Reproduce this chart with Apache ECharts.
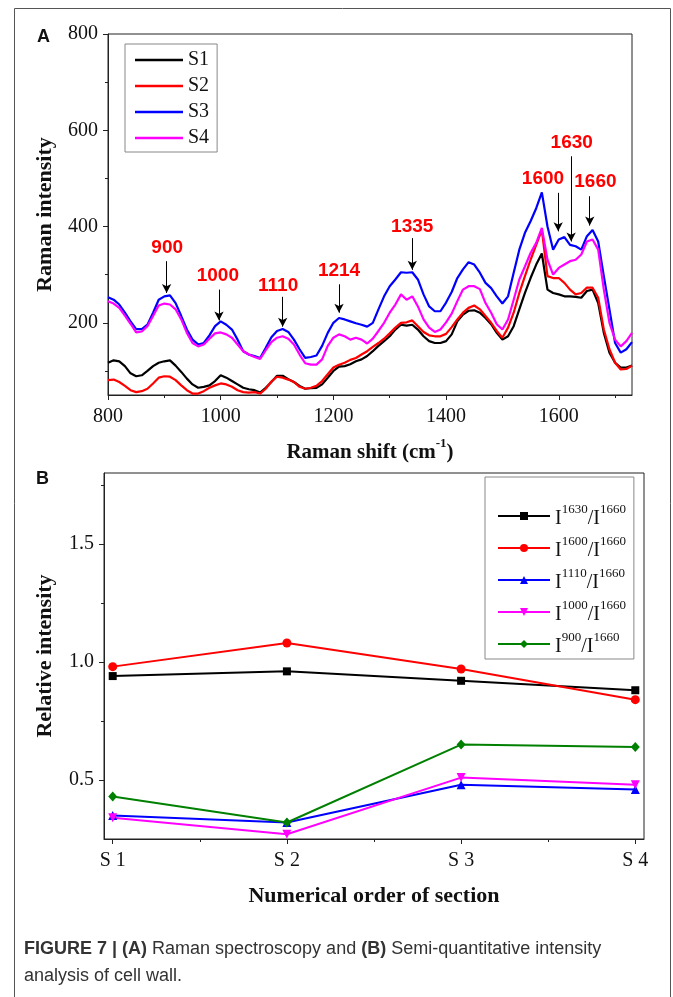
<!DOCTYPE html>
<html>
<head>
<meta charset="utf-8">
<script src="https://cdn.jsdelivr.net/npm/echarts@6/dist/echarts.min.js"></script>
<style>
  html, body { margin: 0; padding: 0; background: #fff; }
  #main { position: absolute; left: 0; top: 0; width: 673px; height: 997px; }
</style>
</head>
<body>
<div id="main"></div>
<script>
  // ---- panel A : Raman spectra ----
  var shift = [
    800, 810, 820, 830, 840, 850, 860, 870, 880, 890,
    900, 910, 920, 930, 940, 950, 960, 970, 980, 990,
    1000, 1010, 1020, 1030, 1040, 1050, 1060, 1070, 1080, 1090,
    1100, 1110, 1120, 1130, 1140, 1150, 1160, 1170, 1180, 1190,
    1200, 1210, 1220, 1230, 1240, 1250, 1260, 1270, 1280, 1290,
    1300, 1310, 1320, 1330, 1340, 1350, 1360, 1370, 1380, 1390,
    1400, 1410, 1420, 1430, 1440, 1450, 1460, 1470, 1480, 1490,
    1500, 1510, 1520, 1530, 1540, 1550, 1560, 1570, 1580, 1590,
    1600, 1610, 1620, 1630, 1640, 1650, 1660, 1670, 1680, 1690,
    1700, 1710, 1720, 1730
  ];
  var s1 = [
    117, 122, 120, 110, 95, 89, 91, 100, 110, 117,
    120, 122, 111, 98, 84, 72, 65, 67, 70, 79,
    91, 86, 79, 72, 65, 62, 60, 55, 65, 77,
    90, 90, 83, 77, 69, 63, 64, 65, 72, 86,
    100, 109, 110, 114, 120, 124, 131, 141, 152, 162,
    172, 186, 196, 194, 196, 186, 172, 162, 158, 158,
    162, 176, 203, 217, 225, 226, 221, 210, 197, 179,
    165, 172, 193, 228, 262, 293, 321, 344, 269, 262,
    259, 255, 255, 254, 252, 266, 269, 241, 179, 138,
    117, 107, 107, 111
  ];
  var s2 = [
    81, 82, 77, 69, 60, 56, 58, 63, 74, 86,
    89, 88, 81, 70, 60, 53, 53, 58, 65, 70,
    74, 72, 67, 60, 56, 55, 56, 53, 63, 78,
    88, 86, 82, 77, 67, 63, 65, 69, 79, 93,
    107, 113, 117, 123, 127, 134, 141, 150, 158, 167,
    178, 190, 200, 201, 205, 193, 181, 174, 172, 172,
    177, 191, 207, 221, 231, 236, 228, 214, 200, 183,
    169, 190, 221, 262, 297, 331, 362, 393, 297, 293,
    293, 283, 269, 259, 262, 273, 273, 252, 186, 145,
    117, 103, 104, 111
  ];
  var s3 = [
    253, 248, 238, 221, 203, 187, 187, 196, 221, 248,
    255, 257, 241, 214, 186, 165, 155, 158, 174, 193,
    203, 196, 186, 165, 141, 134, 131, 127, 148, 170,
    183, 187, 181, 165, 145, 127, 129, 132, 152, 179,
    200, 210, 207, 203, 199, 196, 192, 200, 228, 255,
    276, 290, 305, 304, 305, 290, 259, 234, 224, 224,
    242, 264, 293, 311, 326, 321, 304, 283, 272, 255,
    240, 255, 304, 352, 387, 411, 438, 471, 400, 352,
    373, 378, 362, 359, 352, 380, 393, 369, 297, 228,
    158, 138, 145, 160
  ];
  var s4 = [
    245, 240, 231, 215, 198, 180, 182, 193, 214, 236,
    240, 238, 228, 207, 179, 158, 151, 155, 167, 178,
    180, 176, 169, 155, 141, 134, 129, 125, 143, 160,
    169, 172, 167, 155, 134, 116, 113, 113, 124, 152,
    169, 176, 172, 165, 169, 165, 157, 167, 183, 200,
    221, 238, 259, 248, 255, 234, 207, 190, 181, 186,
    201, 219, 245, 269, 276, 276, 270, 241, 221, 197,
    186, 207, 248, 290, 317, 345, 366, 397, 331, 300,
    314, 321, 328, 331, 342, 369, 373, 352, 269, 200,
    165, 151, 162, 179
  ];
  var spectraNames = ['S1', 'S2', 'S3', 'S4'];

  // peak annotations (data units)
  var peakLabels = ['900', '1000', '1110', '1214', '1335', '1600', '1630', '1660'];
  var labelX = [905, 995, 1102, 1210, 1340, 1572, 1623, 1665];
  var labelY = [356, 297, 276, 309, 400, 500, 575, 494];
  var arrowX = [904, 997, 1110, 1210, 1340, 1599, 1622, 1655];
  var arrowTop = [328, 269, 254, 280, 376, 470, 546, 463];
  var arrowTip = [262, 205, 192, 221, 310, 390, 369, 402];

  var shiftTicks = [800, 1000, 1200, 1400, 1600];
  var shiftMinor = [900, 1100, 1300, 1500, 1700];
  var intensityTicks = [200, 400, 600, 800];
  var intensityMinor = [100, 300, 500, 700];

  // ---- panel B : relative intensity ----
  var sections = ['S1', 'S2', 'S3', 'S4'];
  var r1630 = [0.94, 0.96, 0.92, 0.88];
  var r1600 = [0.98, 1.08, 0.97, 0.84];
  var r1110 = [0.35, 0.32, 0.48, 0.46];
  var r1000 = [0.34, 0.27, 0.51, 0.48];
  var r900 = [0.43, 0.32, 0.65, 0.64];
  var ratioTicks = [0.5, 1.0, 1.5];
  var ratioMinor = [0.75, 1.25, 1.75];
  var sectionTicks = [1, 2, 3, 4];
  var sectionMinor = [1.5, 2.5, 3.5];

  var serif = 'Liberation Serif, Times New Roman, serif';
  var sans = 'Liberation Sans, Arial, sans-serif';
  var narrow = 'Liberation Sans Narrow, Liberation Sans, sans-serif';
  var ink = '#111';

  function pairs(xs, ys) {
    return ys.map(function(v, i) { return [xs[i], v]; });
  }
  function secPairs(ys) {
    return ys.map(function(v, i) { return [i + 1, v]; });
  }

  var supRich = {
    t: { fontFamily: serif, fontSize: 21, fontWeight: 'bold', color: ink, lineHeight: 26, verticalAlign: 'bottom' },
    s: { fontFamily: serif, fontSize: 13, fontWeight: 'bold', color: ink, lineHeight: 13, verticalAlign: 'top' }
  };
  var legRich = {
    t: { fontFamily: serif, fontSize: 20, color: ink, lineHeight: 26, verticalAlign: 'bottom' },
    s: { fontFamily: serif, fontSize: 13, color: ink, lineHeight: 13, verticalAlign: 'top' }
  };

  var chart = echarts.init(document.getElementById('main'), null, { renderer: 'canvas' });

  var markLines = arrowX.map(function(x, i) {
    return [{ coord: [x, arrowTop[i]] }, { coord: [x, arrowTip[i]] }];
  });
  var markPoints = peakLabels.map(function(t, i) {
    return { coord: [labelX[i], labelY[i]], value: t };
  });

  var colorsA = ['#000000', '#ff0000', '#0000ff', '#ff00ff'];
  var dataA = [s1, s2, s3, s4];
  var seriesA = dataA.map(function(d, i) {
    var s = {
      name: spectraNames[i],
      type: 'line',
      xAxisIndex: 0,
      yAxisIndex: 0,
      data: pairs(shift, d),
      symbol: 'none',
      showSymbol: false,
      color: colorsA[i],
      lineStyle: { width: 2.2, color: colorsA[i] },
      animation: false
    };
    if (i === 3) {
      s.markLine = {
        silent: true,
        symbol: ['none', 'arrow'],
        symbolSize: [7, 9],
        lineStyle: { color: '#000', width: 1, type: 'solid' },
        label: { show: false },
        data: markLines,
        animation: false
      };
      s.markPoint = {
        silent: true,
        symbol: 'circle',
        symbolSize: 0,
        label: {
          show: true,
          position: 'inside',
          formatter: '{c}',
          color: '#ff0000',
          fontFamily: sans,
          fontWeight: 'bold',
          fontSize: 19
        },
        data: markPoints,
        animation: false
      };
    }
    return s;
  });

  var ratioNames = ['1630', '1600', '1110', '1000', '900'];
  var ratioData = [r1630, r1600, r1110, r1000, r900];
  var colorsB = ['#000000', '#ff0000', '#0000ff', '#ff00ff', '#008000'];
  var symbolsB = ['rect', 'circle', 'triangle', 'triangle', 'diamond'];
  var rotB = [0, 0, 0, 180, 0];
  var sizeB = [8, 9, 9, 9, [9, 10]];
  var seriesB = ratioData.map(function(d, i) {
    return {
      name: 'I' + ratioNames[i] + '/I1660',
      type: 'line',
      xAxisIndex: 2,
      yAxisIndex: 2,
      data: secPairs(d),
      symbol: symbolsB[i],
      symbolRotate: rotB[i],
      symbolSize: sizeB[i],
      showSymbol: true,
      color: colorsB[i],
      itemStyle: { color: colorsB[i] },
      lineStyle: { width: 2, color: colorsB[i] },
      animation: false
    };
  });

  var axisLine = { show: true, lineStyle: { color: '#222', width: 1 } };
  var labelFont = { fontFamily: serif, fontSize: 20, color: ink };

  var option = {
    backgroundColor: '#fff',
    animation: false,
    grid: [
      { left: 108, top: 34, width: 524, height: 361, show: true, borderColor: '#222', borderWidth: 1, containLabel: false },
      { left: 104, top: 473, width: 540, height: 366, show: true, borderColor: '#222', borderWidth: 1, containLabel: false }
    ],
    xAxis: [
      {
        type: 'value', gridIndex: 0, min: 800, max: 1730,
        axisLine: axisLine,
        axisTick: { show: true, inside: false, length: 5, customValues: shiftTicks, lineStyle: { color: '#222' } },
        axisLabel: Object.assign({
          margin: 12, customValues: shiftTicks,
          formatter: function(v) { return String(v); }
        }, labelFont),
        splitLine: { show: false },
        name: '{t|Raman shift (cm}{s|-1}{t|)}',
        nameLocation: 'middle',
        nameGap: 42,
        nameTextStyle: { rich: supRich }
      },
      {
        type: 'value', gridIndex: 0, min: 800, max: 1730, position: 'bottom',
        axisLine: { show: false },
        axisTick: { show: true, length: 3, customValues: shiftMinor, lineStyle: { color: '#222' } },
        axisLabel: { show: false },
        splitLine: { show: false }
      },
      {
        type: 'value', gridIndex: 1, min: 0.95, max: 4.05,
        axisLine: axisLine,
        axisTick: { show: true, length: 5, customValues: sectionTicks, lineStyle: { color: '#222' } },
        axisLabel: Object.assign({
          margin: 12, customValues: sectionTicks,
          formatter: function(v) { return sections[Math.round(v) - 1].split('').join(' '); }
        }, labelFont),
        splitLine: { show: false },
        name: 'Numerical order of section',
        nameLocation: 'middle',
        nameGap: 46,
        nameTextStyle: { fontFamily: serif, fontSize: 22, fontWeight: 'bold', color: ink }
      },
      {
        type: 'value', gridIndex: 1, min: 0.95, max: 4.05, position: 'bottom',
        axisLine: { show: false },
        axisTick: { show: true, length: 3, customValues: sectionMinor, lineStyle: { color: '#222' } },
        axisLabel: { show: false },
        splitLine: { show: false }
      }
    ],
    yAxis: [
      {
        type: 'value', gridIndex: 0, min: 50, max: 800,
        axisLine: axisLine,
        axisTick: { show: true, length: 5, customValues: intensityTicks, lineStyle: { color: '#222' } },
        axisLabel: Object.assign({ margin: 10, customValues: intensityTicks }, labelFont),
        splitLine: { show: false },
        name: 'Raman intensity',
        nameLocation: 'middle',
        nameGap: 52,
        nameTextStyle: { fontFamily: serif, fontSize: 22, fontWeight: 'bold', color: ink }
      },
      {
        type: 'value', gridIndex: 0, min: 50, max: 800, position: 'left',
        axisLine: { show: false },
        axisTick: { show: true, length: 3, customValues: intensityMinor, lineStyle: { color: '#222' } },
        axisLabel: { show: false },
        splitLine: { show: false }
      },
      {
        type: 'value', gridIndex: 1, min: 0.25, max: 1.8,
        axisLine: axisLine,
        axisTick: { show: true, length: 5, customValues: ratioTicks, lineStyle: { color: '#222' } },
        axisLabel: Object.assign({
          margin: 10, customValues: ratioTicks,
          formatter: function(v) { return v.toFixed(1); }
        }, labelFont),
        splitLine: { show: false },
        name: 'Relative intensity',
        nameLocation: 'middle',
        nameGap: 48,
        nameTextStyle: { fontFamily: serif, fontSize: 22, fontWeight: 'bold', color: ink }
      },
      {
        type: 'value', gridIndex: 1, min: 0.25, max: 1.8, position: 'left',
        axisLine: { show: false },
        axisTick: { show: true, length: 3, customValues: ratioMinor, lineStyle: { color: '#222' } },
        axisLabel: { show: false },
        splitLine: { show: false }
      }
    ],
    legend: [
      {
        data: spectraNames,
        orient: 'vertical',
        left: 125, top: 44,
        padding: [6, 8, 4, 10],
        itemGap: 6,
        icon: 'rect',
        itemWidth: 48, itemHeight: 2.5,
        borderColor: '#888', borderWidth: 1,
        backgroundColor: '#fff',
        textStyle: { fontFamily: serif, fontSize: 20, color: ink, lineHeight: 20 }
      },
      {
        data: seriesB.map(function(s) { return s.name; }),
        orient: 'vertical',
        left: 485, top: 477,
        padding: [26, 8, 2, 12],
        itemGap: 6,
        itemWidth: 52, itemHeight: 10,
        borderColor: '#888', borderWidth: 1,
        backgroundColor: '#fff',
        formatter: function(name) {
          var m = name.match(/I(\d+)\/I(\d+)/);
          return '{t|I}{s|' + m[1] + '}{t|/I}{s|' + m[2] + '}';
        },
        textStyle: { rich: legRich }
      }
    ],
    graphic: [
      { type: 'rect', silent: true, shape: { x: 14.5, y: 8.5, width: 656, height: 1010 },
        style: { fill: 'none', stroke: '#555', lineWidth: 1 } },
      { type: 'text', left: 37, top: 28, style: { text: 'A', fontFamily: sans, fontWeight: 'bold', fontSize: 18, fill: '#111' } },
      { type: 'text', left: 36, top: 470, style: { text: 'B', fontFamily: sans, fontWeight: 'bold', fontSize: 18, fill: '#111' } },
      { type: 'text', left: 24, top: 940, style: {
          text: '{b|FIGURE 7 | (A)} Raman spectroscopy and {b|(B)} Semi-quantitative intensity',
          fontFamily: narrow, fontSize: 18, fill: '#333',
          rich: { b: { fontFamily: narrow, fontSize: 18, fontWeight: 'bold', fill: '#333' } }
        } },
      { type: 'text', left: 24, top: 967, style: {
          text: 'analysis of cell wall.',
          fontFamily: narrow, fontSize: 18, fill: '#333'
        } }
    ],
    series: seriesA.concat(seriesB)
  };

  chart.setOption(option);
</script>
</body>
</html>
